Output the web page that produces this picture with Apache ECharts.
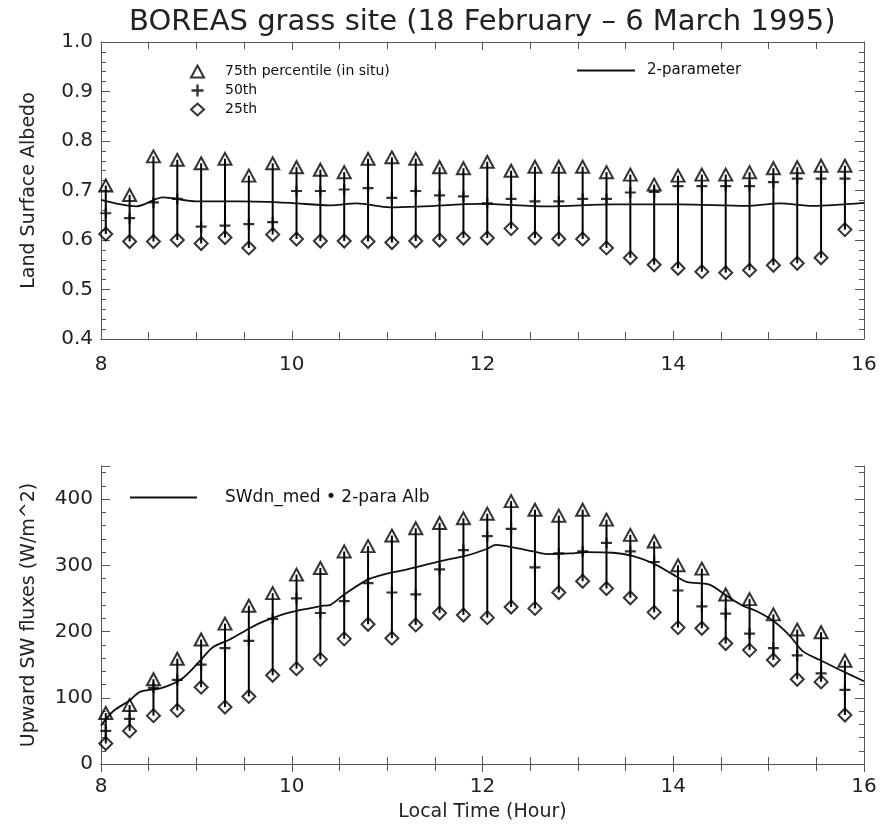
<!DOCTYPE html>
<html>
<head>
<meta charset="utf-8">
<script src="https://cdn.jsdelivr.net/npm/echarts@6/dist/echarts.min.js"></script>
<style>
  body { margin: 0; background: #fff; }
  #chart { width: 892px; height: 828px; }
</style>
</head>
<body>
<div id="chart"></div>
<script>
// sample times (local hour), shared by both panels
const hours = [8.05, 8.30, 8.55, 8.80, 9.05, 9.30, 9.55, 9.80, 10.05, 10.30, 10.55, 10.80,
  11.05, 11.30, 11.55, 11.80, 12.05, 12.30, 12.55, 12.80, 13.05, 13.30, 13.55, 13.80,
  14.05, 14.30, 14.55, 14.80, 15.05, 15.30, 15.55, 15.80];

// land surface albedo percentiles (in situ)
const albedo75 = [0.710, 0.691, 0.769, 0.762, 0.755, 0.764, 0.730, 0.755, 0.747, 0.742, 0.737, 0.764,
  0.767, 0.764, 0.747, 0.745, 0.758, 0.740, 0.748, 0.748, 0.748, 0.737, 0.732, 0.712,
  0.730, 0.732, 0.732, 0.737, 0.745, 0.747, 0.750, 0.750];
const albedo50 = [0.654, 0.644, 0.676, 0.683, 0.627, 0.629, 0.632, 0.636, 0.699, 0.699, 0.702, 0.705,
  0.685, 0.699, 0.690, 0.688, 0.674, 0.683, 0.678, 0.678, 0.683, 0.683, 0.696, 0.697,
  0.709, 0.709, 0.709, 0.709, 0.717, 0.724, 0.724, 0.724];
const albedo25 = [0.612, 0.597, 0.597, 0.600, 0.593, 0.605, 0.584, 0.611, 0.602, 0.598, 0.598, 0.597,
  0.595, 0.598, 0.600, 0.604, 0.604, 0.623, 0.604, 0.602, 0.602, 0.584, 0.564, 0.550,
  0.543, 0.536, 0.534, 0.539, 0.549, 0.553, 0.564, 0.621];

// 2-parameter albedo model curve
const albModelHours = [8.00, 8.37, 8.65, 9.00, 9.46, 9.98, 10.40, 10.68, 11.03, 11.38, 11.98,
  12.68, 13.37, 14.07, 14.77, 15.12, 15.46, 16.00];
const albModelVals = [0.681, 0.668, 0.686, 0.678, 0.678, 0.675, 0.670, 0.674, 0.666, 0.668, 0.673,
  0.668, 0.672, 0.672, 0.669, 0.674, 0.669, 0.675];

// upward SW flux percentiles (W/m^2)
const flux75 = [77, 89, 128, 159, 188, 212, 239, 258, 286, 296, 321, 329, 345, 356, 364, 371,
  378, 397, 384, 375, 384, 369, 346, 336, 300, 295, 256, 249, 226, 203, 199, 156];
const flux50 = [50, 68, 115, 127, 150, 175, 186, 219, 250, 228, 246, 273, 259, 256, 294, 323,
  344, 355, 297, 318, 321, 334, 321, 305, 262, 238, 227, 197, 175, 164, 137, 112];
const flux25 = [31, 50, 73, 81, 116, 86, 102, 134, 144, 158, 189, 211, 190, 210, 228, 225,
  221, 237, 235, 259, 276, 265, 251, 229, 206, 205, 182, 172, 157, 128, 124, 74];

// SWdn_med * 2-para albedo curve
const swModelHours = [8.00, 8.13, 8.30, 8.41, 8.64, 8.86, 9.04, 9.17, 9.35, 9.56, 9.70, 9.98,
  10.33, 10.40, 10.54, 10.79, 10.93, 11.21, 11.55, 11.84, 12.05, 12.14, 12.32, 12.53, 12.68,
  12.92, 13.10, 13.37, 13.58, 13.79, 14.00, 14.14, 14.38, 14.56, 14.73, 14.87, 15.05, 15.22,
  15.36, 15.54, 15.75, 16.00];
const swModelVals = [58, 80, 96, 109, 115, 130, 156, 176, 188, 205, 215, 229,
  239, 240, 255, 278, 285, 294, 306, 315, 325, 331, 327, 321, 317,
  318, 320, 319, 314, 303, 286, 275, 271, 254, 239, 231, 216, 194,
  170, 157, 142, 125];

const xTicks = [8, 10, 12, 14, 16];

const font = 'DejaVu Sans';
const axisColor = '#555';
const plusPath = 'path://M4,0H6V4H10V6H6V10H4V6H0V4H4Z';

const zip = (xs, ys) => xs.map((x, i) => [x, ys[i]]);
const barRows = (hi, lo) => hours.map((h, i) => [h, hi[i], lo[i]]);

const renderBar = (params, api) => {
  const top = api.coord([api.value(0), api.value(1)]);
  const bot = api.coord([api.value(0), api.value(2)]);
  return {
    type: 'line',
    shape: { x1: top[0], y1: top[1], x2: bot[0], y2: bot[1] },
    style: { stroke: '#000', lineWidth: 2 }
  };
};

const xAxisFor = (gridIndex, position, withLabels, margin) => ({
  type: 'value',
  gridIndex: gridIndex,
  position: position,
  min: xTicks[0],
  max: xTicks[xTicks.length - 1],
  interval: 2,
  axisLine: { show: true, lineStyle: { color: axisColor, width: 1 } },
  axisTick: { show: true, inside: true, length: 8, lineStyle: { color: axisColor } },
  minorTick: { show: true, splitNumber: 4, length: 7, lineStyle: { color: axisColor } },
  axisLabel: {
    show: withLabels, margin: margin || 12, color: '#222', fontFamily: font, fontSize: 20
  },
  splitLine: { show: false }
});

const yAxisFor = (gridIndex, position, withLabels, min, max, interval, split, fmt, name) => ({
  type: 'value',
  gridIndex: gridIndex,
  position: position,
  min: min,
  max: max,
  interval: interval,
  name: withLabels ? name : '',
  nameLocation: 'middle',
  nameGap: 62,
  nameTextStyle: { color: '#222', fontFamily: font, fontSize: 19 },
  axisLine: { show: true, lineStyle: { color: axisColor, width: 1 } },
  axisTick: { show: true, inside: true, length: 9, lineStyle: { color: axisColor } },
  minorTick: { show: true, splitNumber: split, length: 5, lineStyle: { color: axisColor } },
  axisLabel: {
    show: withLabels, margin: 8, color: '#222', fontFamily: font, fontSize: 20,
    showMaxLabel: max % interval === 0 || interval < 1, formatter: fmt
  },
  splitLine: { show: false }
});

const hollow = { color: 'rgba(0,0,0,0)', borderColor: '#000', borderWidth: 2 };

const chart = echarts.init(document.getElementById('chart'));

const option = {
  animation: false,
  backgroundColor: '#fff',
  title: {
    text: 'BOREAS grass site (18 February \u2013 6 March 1995)',
    left: 124,
    top: 3,
    textStyle: { color: '#222', fontFamily: font, fontSize: 29, fontWeight: 'normal' }
  },
  grid: [
    { left: 101, right: 28, top: 42, height: 297 },
    { left: 101, right: 28, top: 466, height: 298 }
  ],
  legend: [
    {
      data: ['75th percentile (in situ)', '50th', '25th'],
      orient: 'vertical', left: 190, top: 63, padding: 0,
      itemWidth: 13, itemHeight: 12, itemGap: 2,
      textStyle: { color: '#111', fontFamily: font, fontSize: 14, lineHeight: 17, padding: [0, 0, 0, 16] }
    },
    {
      data: ['2-parameter'],
      left: 577, top: 63, padding: 0,
      icon: 'rect', itemWidth: 58, itemHeight: 2,
      textStyle: { color: '#111', fontFamily: font, fontSize: 15, padding: [0, 0, 0, 7] }
    },
    {
      data: ['SWdn_med \u2022 2-para Alb'],
      left: 130, top: 489, padding: 0,
      icon: 'rect', itemWidth: 67, itemHeight: 2,
      textStyle: { color: '#111', fontFamily: font, fontSize: 17, padding: [0, 0, 0, 23] }
    }
  ],
  xAxis: [
    xAxisFor(0, 'bottom', true, 16),
    xAxisFor(0, 'top', false),
    Object.assign(xAxisFor(1, 'bottom', true, 13), {
      name: 'Local Time (Hour)', nameLocation: 'middle', nameGap: 39,
      nameTextStyle: { color: '#222', fontFamily: font, fontSize: 19 }
    }),
    xAxisFor(1, 'top', false)
  ],
  yAxis: [
    yAxisFor(0, 'left', true, 0.4, 1.0, 0.1, 5, v => v.toFixed(1), 'Land Surface Albedo'),
    yAxisFor(0, 'right', false, 0.4, 1.0, 0.1, 5, v => v.toFixed(1), ''),
    yAxisFor(1, 'left', true, 0, 450, 100, 5, v => String(v), 'Upward SW fluxes (W/m^2)'),
    yAxisFor(1, 'right', false, 0, 450, 100, 5, v => String(v), '')
  ],
  series: [
    // top panel
    {
      type: 'custom', name: 'albedoRange', xAxisIndex: 0, yAxisIndex: 0,
      data: barRows(albedo75, albedo25), encode: { x: 0, y: [1, 2] },
      renderItem: renderBar, z: 1
    },
    {
      type: 'line', name: '2-parameter', xAxisIndex: 0, yAxisIndex: 0,
      data: zip(albModelHours, albModelVals), showSymbol: false, symbol: 'none',
      smooth: 0.3, lineStyle: { color: '#111', width: 1.8 }, itemStyle: { color: '#111' }, z: 2
    },
    {
      type: 'scatter', name: '75th percentile (in situ)', xAxisIndex: 0, yAxisIndex: 0,
      data: zip(hours, albedo75), symbol: 'triangle', symbolSize: [13, 12],
      itemStyle: hollow, z: 3
    },
    {
      type: 'scatter', name: '50th', xAxisIndex: 0, yAxisIndex: 0,
      data: zip(hours, albedo50), symbol: plusPath, symbolSize: 11,
      itemStyle: { color: '#000' }, z: 3
    },
    {
      type: 'scatter', name: '25th', xAxisIndex: 0, yAxisIndex: 0,
      data: zip(hours, albedo25), symbol: 'diamond', symbolSize: [13, 13],
      itemStyle: hollow, z: 3
    },
    // bottom panel
    {
      type: 'custom', name: 'fluxRange', xAxisIndex: 2, yAxisIndex: 2,
      data: barRows(flux75, flux25), encode: { x: 0, y: [1, 2] },
      renderItem: renderBar, z: 1
    },
    {
      type: 'line', name: 'SWdn_med \u2022 2-para Alb', xAxisIndex: 2, yAxisIndex: 2,
      data: zip(swModelHours, swModelVals), showSymbol: false, symbol: 'none',
      smooth: 0.3, lineStyle: { color: '#111', width: 1.8 }, itemStyle: { color: '#111' }, z: 2
    },
    {
      type: 'scatter', name: 'flux75', xAxisIndex: 2, yAxisIndex: 2,
      data: zip(hours, flux75), symbol: 'triangle', symbolSize: [13, 12],
      itemStyle: hollow, z: 3
    },
    {
      type: 'scatter', name: 'flux50', xAxisIndex: 2, yAxisIndex: 2,
      data: zip(hours, flux50), symbol: plusPath, symbolSize: 11,
      itemStyle: { color: '#000' }, z: 3
    },
    {
      type: 'scatter', name: 'flux25', xAxisIndex: 2, yAxisIndex: 2,
      data: zip(hours, flux25), symbol: 'diamond', symbolSize: [13, 13],
      itemStyle: hollow, z: 3
    }
  ]
};

chart.setOption(option);
</script>
</body>
</html>
